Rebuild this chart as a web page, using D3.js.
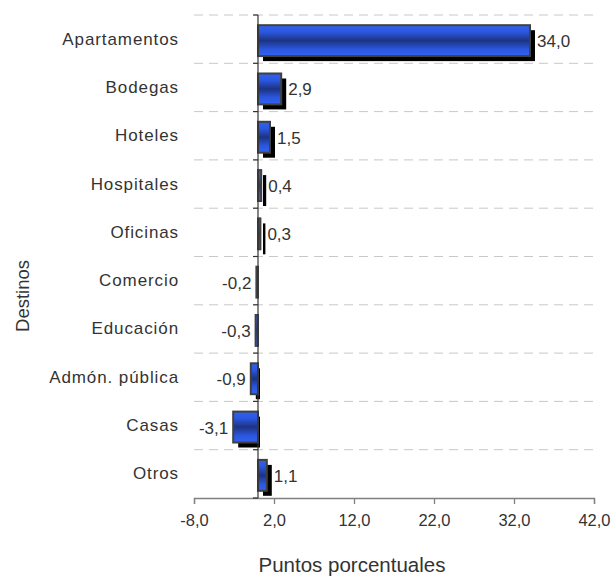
<!DOCTYPE html>
<html>
<head>
<meta charset="utf-8">
<script src="https://cdn.jsdelivr.net/npm/d3@7"></script>
<style>
  html, body { margin: 0; padding: 0; background: #fff; }
  svg { display: block; font-family: "Liberation Sans", Arial, sans-serif; }
</style>
</head>
<body>
<svg id="chart" width="614" height="577"></svg>
<script>
// Contribución por destino (puntos porcentuales)
const categories = ["Apartamentos", "Bodegas", "Hoteles", "Hospitales", "Oficinas",
                    "Comercio", "Educación", "Admón. pública", "Casas", "Otros"];
const values = [34.0, 2.9, 1.5, 0.4, 0.3, -0.2, -0.3, -0.9, -3.1, 1.1];
const xTicks = [-8, 2, 12, 22, 32, 42];

(function () {
const svg = d3.select("#chart");
const plotLeft = 194, plotRight = 594, plotTop = 15, plotBottom = 498;

const x = d3.scaleLinear().domain([-8, 42]).range([plotLeft, plotRight]);
// bars sit slightly below the centre of each row
const y = d3.scaleBand().domain(categories).range([plotTop + 1.5, plotBottom + 1.5])
  .paddingInner(0.36).paddingOuter(0.18);
const band = d3.scaleBand().domain(categories).range([plotTop, plotBottom]);
const fmt = v => d3.format(".1f")(v).replace(".", ",").replace("−", "-");

// bar gradient: bright blue edges, dark navy centre
const defs = svg.append("defs");
const grad = defs.append("linearGradient").attr("id", "barGrad")
  .attr("x1", 0).attr("y1", 0).attr("x2", 0).attr("y2", 1);
[["0%", "#3162f2"], ["22%", "#2b57e0"], ["50%", "#1d3382"], ["78%", "#2b57e0"], ["100%", "#3162f2"]]
  .forEach(([o, c]) => grad.append("stop").attr("offset", o).attr("stop-color", c));

// dashed gridlines at category boundaries
const bounds = categories.map(c => band(c));
svg.append("g").selectAll("line").data(bounds).join("line")
  .attr("x1", plotLeft).attr("x2", plotRight)
  .attr("y1", d => d).attr("y2", d => d)
  .attr("stroke", "#c8c8c8").attr("stroke-width", 1)
  .attr("stroke-dasharray", "9,6");

// x axis
const xAxis = d3.axisBottom(x).tickValues(xTicks).tickSize(6).tickFormat(fmt);
const gx = svg.append("g").attr("transform", `translate(0,${plotBottom})`).call(xAxis);
gx.select(".domain").attr("stroke", "#808080").attr("stroke-width", 1.3);
gx.selectAll(".tick line").attr("stroke", "#808080").attr("stroke-width", 1.3);
gx.selectAll(".tick text").attr("font-size", 16.5).attr("fill", "#333")
  .attr("y", 16).attr("font-family", "Liberation Sans, Arial, sans-serif");

const x0 = x(0);
const sdx = 5, sdy = 5;

// shadows (negative bars: shadow stops just past the zero line)
svg.append("g").selectAll("rect").data(values).join("rect")
  .attr("x", d => Math.min(x(d), x0) + sdx)
  .attr("y", (d, i) => y(categories[i]) + sdy)
  .attr("width", d => d >= 0
    ? Math.max(x(d) - x0, 1)
    : Math.max(x0 + 2 - (x(d) + sdx), 0))
  .attr("height", y.bandwidth())
  .attr("fill", "#000");

// bars
svg.append("g").selectAll("rect").data(values).join("rect")
  .attr("x", d => Math.min(x(d), x0))
  .attr("y", (d, i) => y(categories[i]))
  .attr("width", d => Math.max(Math.abs(x(d) - x0), 1))
  .attr("height", y.bandwidth())
  .attr("fill", "url(#barGrad)")
  .attr("stroke", "#404040").attr("stroke-width", 2);

// vertical axis at zero with small ticks
svg.append("line").attr("x1", x0).attr("x2", x0).attr("y1", plotTop).attr("y2", plotBottom)
  .attr("stroke", "#333").attr("stroke-width", 1.2);
svg.append("g").selectAll("line").data(bounds.concat([plotBottom])).join("line")
  .attr("x1", x0 - 5).attr("x2", x0).attr("y1", d => d).attr("y2", d => d)
  .attr("stroke", "#333").attr("stroke-width", 1.2);

// category labels
svg.append("g").selectAll("text").data(categories).join("text")
  .attr("x", 179).attr("y", c => band(c) + band.bandwidth() / 2)
  .attr("text-anchor", "end").attr("dominant-baseline", "central")
  .attr("font-size", 17).attr("letter-spacing", 0.9).attr("fill", "#333")
  .text(c => c);

// value labels
svg.append("g").selectAll("text").data(values).join("text")
  .attr("x", d => d >= 0 ? x(d) + sdx + 2 : x(d) - 5)
  .attr("y", (d, i) => y(categories[i]) + y.bandwidth() / 2 + 1)
  .attr("text-anchor", d => d >= 0 ? "start" : "end")
  .attr("dominant-baseline", "central")
  .attr("font-size", 17).attr("fill", "#333")
  .text(d => fmt(d));

// axis titles
svg.append("text").attr("x", 352).attr("y", 572).attr("text-anchor", "middle")
  .attr("font-size", 20.5).attr("fill", "#333").text("Puntos porcentuales");
svg.append("text").attr("transform", "translate(29,296) rotate(-90)")
  .attr("text-anchor", "middle").attr("font-size", 18.5).attr("fill", "#333").text("Destinos");
})();
</script>
</body>
</html>
